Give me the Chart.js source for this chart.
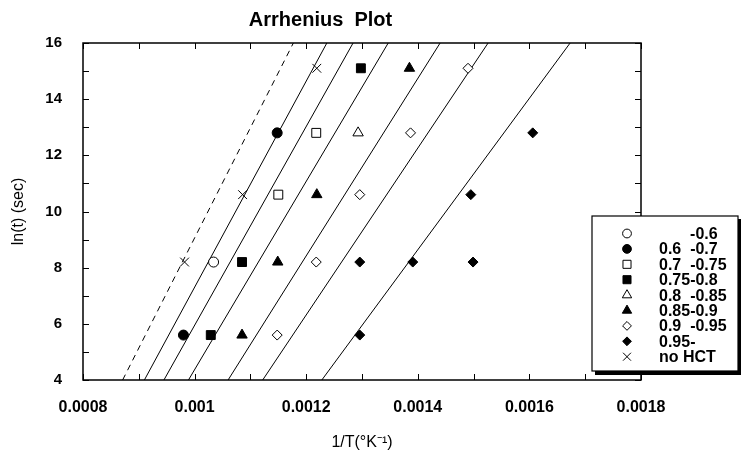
<!DOCTYPE html>
<html lang="en">
<head>
  <meta charset="UTF-8">
  <title>Arrhenius Plot</title>
  <style>
    body { margin: 0; padding: 0; background: #fff; }
    #chart { display: block; }
  </style>
</head>
<body>
  <canvas id="chart" width="741" height="454"></canvas>

  <script src="https://cdn.jsdelivr.net/npm/chart.js"></script>
  <script>
    // values: x = 1/T (1/K), y = ln(t) (sec)
    var hctLabels = ['       -0.6', '0.6  -0.7', '0.7  -0.75', '0.75-0.8', '0.8  -0.85',
                     '0.85-0.9', '0.9  -0.95', '0.95-', 'no HCT'];

    var x06 = [0.001034];                                   var y06 = [8.2];
    var x0607 = [0.00098, 0.001148];                        var y0607 = [5.6, 12.8];
    var x07075 = [0.00115, 0.001218];                       var y07075 = [10.6, 12.8];
    var x07508 = [0.001029, 0.001085, 0.001298];            var y07508 = [5.6, 8.2, 15.1];
    var x08085 = [0.001293];                                var y08085 = [12.8];
    var x08509 = [0.001085, 0.001149, 0.001219, 0.001385];  var y08509 = [5.6, 8.2, 10.6, 15.1];
    var x09095 = [0.001148, 0.001218, 0.001296, 0.001387, 0.00149];
    var y09095 = [5.6, 8.2, 10.6, 12.8, 15.1];
    var x095 = [0.001296, 0.001296, 0.001391, 0.001499, 0.001495, 0.001606];
    var y095 = [5.6, 8.2, 8.2, 8.2, 10.6, 12.8];
    var xNoHct = [0.000982, 0.001086, 0.001219];            var yNoHct = [8.2, 10.6, 15.1];

    // fitted lines: 1/T where each line meets ln(t)=4 and ln(t)=16 (first one dashed)
    var fitLowX  = [0.000871, 0.00091, 0.000945, 0.000989, 0.00106, 0.001122, 0.001228];
    var fitHighX = [0.001177, 0.001237, 0.001284, 0.001347, 0.00144, 0.001526, 0.001673];
    var fitLnT = [4, 16];

    var xTicks = [0.0008, 0.0009, 0.001, 0.0011, 0.0012, 0.0013, 0.0014, 0.0015, 0.0016, 0.0017, 0.0018];
    var xTickLabels = ['0.0008', '', '0.001', '', '0.0012', '', '0.0014', '', '0.0016', '', '0.0018'];
    var yTicks = [4, 5, 6, 7, 8, 9, 10, 11, 12, 13, 14, 15, 16];
    var yTickLabels = ['4', '', '6', '', '8', '', '10', '', '12', '', '14', '', '16'];

    var seriesX = [x06, x0607, x07075, x07508, x08085, x08509, x09095, x095, xNoHct];
    var seriesY = [y06, y0607, y07075, y07508, y08085, y08509, y09095, y095, yNoHct];
    var markStyle = ['circle', 'circle', 'rect', 'rect', 'triangle', 'triangle', 'rectRot', 'rectRot', 'crossRot'];
    var markFilled = [false, true, false, true, false, true, false, true, false];
    var markRadius = [5, 5, 6.3, 6.3, 6, 6, 5, 5, 6.2];

    var FONT = '"Liberation Sans", Arial, Helvetica, sans-serif';

    function pts(xs, ys) {
      return xs.map(function (x, i) { return { x: x, y: ys[i] }; });
    }

    var datasets = [];
    hctLabels.forEach(function (lab, i) {
      datasets.push({
        label: lab,
        data: pts(seriesX[i], seriesY[i]),
        showLine: false,
        pointStyle: markStyle[i],
        pointRadius: markRadius[i],
        pointBackgroundColor: markFilled[i] ? '#000' : '#fff',
        pointBorderColor: '#000',
        pointBorderWidth: 1,
        isMarker: true
      });
    });
    fitLowX.forEach(function (x0, i) {
      datasets.push({
        label: 'fit ' + (i + 1),
        data: pts([x0, fitHighX[i]], fitLnT),
        showLine: true,
        borderColor: '#000',
        borderWidth: 1,
        borderDash: i === 0 ? [6, 5] : [],
        pointRadius: 0,
        fill: false
      });
    });

    // frame, inward tick marks and the boxed legend
    var framePlugin = {
      id: 'frame',
      afterDraw: function (chart) {
        var ctx = chart.ctx, a = chart.chartArea;
        var xs = chart.scales.x, ys = chart.scales.y;
        ctx.save();
        ctx.strokeStyle = '#000';
        ctx.lineWidth = 1;
        ctx.beginPath();
        xTicks.forEach(function (v) {
          var px = Math.round(xs.getPixelForValue(v)) + 0.5;
          ctx.moveTo(px, a.bottom); ctx.lineTo(px, a.bottom - 6);
          ctx.moveTo(px, a.top); ctx.lineTo(px, a.top + 6);
        });
        yTicks.forEach(function (v) {
          var py = Math.round(ys.getPixelForValue(v)) + 0.5;
          ctx.moveTo(a.left, py); ctx.lineTo(a.left + 6, py);
          ctx.moveTo(a.right, py); ctx.lineTo(a.right - 6, py);
        });
        ctx.stroke();
        ctx.lineWidth = 1.5;
        ctx.strokeRect(a.left, a.top, a.right - a.left, a.bottom - a.top);

        // legend box
        var bx = 592, by = 216, bw = 146, bh = 155;
        ctx.fillStyle = '#fff';
        ctx.fillRect(bx, by, bw, bh);
        ctx.fillStyle = '#000';
        ctx.fillRect(bx + 3, by + bh, bw, 4);
        ctx.fillRect(bx + bw, by + 3, 3, bh + 1);
        ctx.lineWidth = 1.2;
        ctx.strokeRect(bx, by, bw, bh);

        ctx.font = 'bold 16px ' + FONT;
        ctx.textBaseline = 'middle';
        ctx.textAlign = 'left';
        chart.data.datasets.forEach(function (ds, i) {
          if (!ds.isMarker) return;
          var cy = 233.5 + i * 15.4;
          ctx.fillStyle = markFilled[i] ? '#000' : '#fff';
          ctx.strokeStyle = '#000';
          ctx.lineWidth = 1;
          Chart.helpers.drawPoint(ctx, {
            pointStyle: markStyle[i], radius: markRadius[i] - 0.6, rotation: 0, borderWidth: 1
          }, 627, cy);
          ctx.fillStyle = '#000';
          ctx.fillText(ds.label, 659, cy + 1);
        });
        ctx.restore();
      }
    };

    new Chart(document.getElementById('chart'), {
      type: 'scatter',
      data: { datasets: datasets },
      plugins: [framePlugin],
      options: {
        responsive: false,
        animation: false,
        devicePixelRatio: 1,
        events: [],
        layout: { padding: { left: 0, right: 100, top: 0, bottom: 0 } },
        plugins: {
          legend: { display: false },
          tooltip: { enabled: false },
          title: {
            display: true,
            text: 'Arrhenius  Plot',
            color: '#000',
            font: { family: FONT, size: 20, weight: 'bold' },
            padding: { top: 8, bottom: 11 }
          }
        },
        scales: {
          x: {
            type: 'linear',
            min: 0.0008,
            max: 0.0018,
            afterFit: function (s) { s.height = 74; },
            afterBuildTicks: function (s) { s.ticks = xTicks.map(function (v) { return { value: v }; }); },
            grid: { display: false, drawTicks: false },
            border: { display: false },
            ticks: {
              autoSkip: false,
              maxRotation: 0,
              padding: 18,
              color: '#000',
              font: { family: FONT, size: 16, weight: 'bold' },
              callback: function (v, i) { return xTickLabels[i]; }
            },
            title: {
              display: true,
              text: '1/T(°K⁻¹)',
              color: '#000',
              font: { family: FONT, size: 16 },
              padding: { top: 0, bottom: 2 }
            }
          },
          y: {
            type: 'linear',
            min: 4,
            max: 16,
            afterFit: function (s) { s.width = 83; },
            afterBuildTicks: function (s) { s.ticks = yTicks.map(function (v) { return { value: v }; }); },
            grid: { display: false, drawTicks: false },
            border: { display: false },
            ticks: {
              autoSkip: false,
              padding: 21,
              color: '#000',
              font: { family: FONT, size: 15, weight: 'bold' },
              callback: function (v, i) { return yTickLabels[i]; }
            },
            title: {
              display: true,
              text: 'ln(t) (sec)',
              color: '#000',
              font: { family: FONT, size: 16 },
              padding: { top: 9, bottom: 0 }
            }
          }
        }
      }
    });
  </script>
</body>
</html>
